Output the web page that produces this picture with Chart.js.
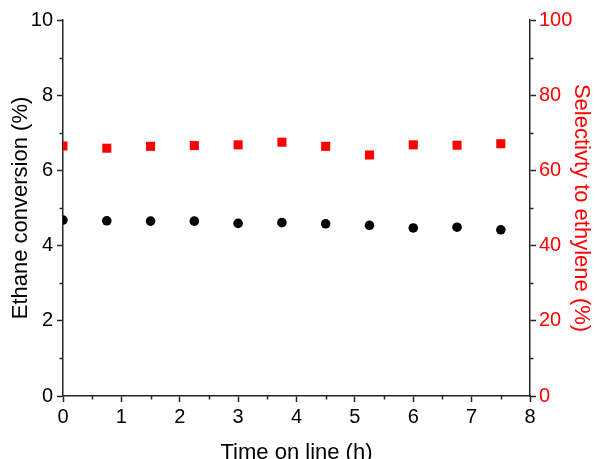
<!DOCTYPE html>
<html>
<head>
<meta charset="utf-8">
<title>Ethane conversion and ethylene selectivity vs. time on line</title>
<script src="https://cdn.jsdelivr.net/npm/chart.js@4/dist/chart.umd.min.js"></script>
<style>
  html, body { margin: 0; padding: 0; background: #ffffff; }
  #wrap { width: 595px; height: 459px; overflow: hidden; }
</style>
</head>
<body>
<div id="wrap"><canvas id="chart" width="595" height="459"></canvas></div>
<script>
// Time on line (h)
const timeOnLine = [0, 0.75, 1.5, 2.25, 3, 3.75, 4.5, 5.25, 6, 6.75, 7.5];
// Ethane conversion (%) — left axis
const ethaneConversion = [4.68, 4.66, 4.65, 4.65, 4.59, 4.61, 4.58, 4.54, 4.47, 4.49, 4.42];
// Selectivity to ethylene (%) — right axis
const ethyleneSelectivity = [66.5, 65.9, 66.4, 66.6, 66.8, 67.5, 66.4, 64.1, 66.8, 66.7, 67.1];

// Axis tick settings
const xTicks = { min: 0, max: 8, step: 1 };
const leftTicks = { min: 0, max: 10, step: 2 };
const rightTicks = { min: 0, max: 100, step: 20 };

const FONT = "'Liberation Sans', Arial, Helvetica, sans-serif";
const AXIS = '#262626';
const RED = '#ff0000';

const pairs = (xs, ys) => xs.map((t, i) => ({ x: t, y: ys[i] }));

// Short unlabelled ticks halfway between the labelled ones
const minorTicks = {
  id: 'minorTicks',
  afterDraw(chart) {
    const { ctx, scales } = chart;
    const len = 3.5;
    ctx.save();
    ctx.strokeStyle = AXIS;
    ctx.lineWidth = 1.5;
    ctx.beginPath();
    const xs = scales.x;
    for (let v = xTicks.min + xTicks.step / 2; v < xTicks.max; v += xTicks.step) {
      const px = Math.round(xs.getPixelForValue(v)) + 0.5;
      ctx.moveTo(px, xs.top); ctx.lineTo(px, xs.top + len);
    }
    const yl = scales.y;
    for (let v = leftTicks.min + leftTicks.step / 2; v < leftTicks.max; v += leftTicks.step) {
      const py = Math.round(yl.getPixelForValue(v)) + 0.5;
      ctx.moveTo(yl.right, py); ctx.lineTo(yl.right - len, py);
    }
    const yr = scales.y1;
    for (let v = rightTicks.min + rightTicks.step / 2; v < rightTicks.max; v += rightTicks.step) {
      const py = Math.round(yr.getPixelForValue(v)) + 0.5;
      ctx.moveTo(yr.left, py); ctx.lineTo(yr.left + len, py);
    }
    ctx.stroke();
    ctx.restore();
  }
};

const axisGrid = { drawOnChartArea: false, drawTicks: true, tickLength: 6, tickWidth: 1.5, color: AXIS };
const axisBorder = { display: true, color: AXIS, width: 1.5 };

new Chart(document.getElementById('chart'), {
  type: 'scatter',
  data: {
    datasets: [
      {
        label: 'Ethane conversion',
        data: pairs(timeOnLine, ethaneConversion),
        yAxisID: 'y',
        pointStyle: 'circle',
        pointRadius: 4.8,
        pointHoverRadius: 4.8,
        backgroundColor: '#000000',
        borderColor: '#000000',
        borderWidth: 0
      },
      {
        label: 'Selectivity to ethylene',
        data: pairs(timeOnLine, ethyleneSelectivity),
        yAxisID: 'y1',
        pointStyle: 'rect',
        pointRadius: 6.4,
        pointHoverRadius: 6.4,
        backgroundColor: RED,
        borderColor: RED,
        borderWidth: 0
      }
    ]
  },
  options: {
    responsive: false,
    animation: false,
    events: [],
    layout: { padding: { top: 20, left: 0, right: 0, bottom: 0 } },
    plugins: { legend: { display: false }, tooltip: { enabled: false } },
    scales: {
      x: {
        type: 'linear',
        position: 'bottom',
        min: xTicks.min, max: xTicks.max,
        grid: axisGrid,
        border: axisBorder,
        ticks: { stepSize: xTicks.step, color: '#000', padding: 3, font: { family: FONT, size: 20 } },
        title: {
          display: true, text: 'Time on line (h)', color: '#000',
          font: { family: FONT, size: 22 }, padding: { top: 0, bottom: -7 }
        },
        afterFit(scale) { scale.height = 63; }
      },
      y: {
        type: 'linear',
        position: 'left',
        min: leftTicks.min, max: leftTicks.max,
        grid: axisGrid,
        border: axisBorder,
        ticks: { stepSize: leftTicks.step, color: '#000', padding: 4, font: { family: FONT, size: 20 } },
        title: {
          display: true, text: 'Ethane conversion (%)', color: '#000',
          font: { family: FONT, size: 22 }, padding: { top: 8, bottom: 0 }
        },
        afterFit(scale) { scale.width = 63; }
      },
      y1: {
        type: 'linear',
        position: 'right',
        min: rightTicks.min, max: rightTicks.max,
        grid: axisGrid,
        border: axisBorder,
        ticks: { stepSize: rightTicks.step, color: RED, padding: 3, font: { family: FONT, size: 20 } },
        title: {
          display: true, text: 'Selectivty to ethylene (%)', color: RED,
          font: { family: FONT, size: 22 }, padding: { top: 1, bottom: 0 }
        },
        afterFit(scale) { scale.width = 65; }
      }
    }
  },
  plugins: [minorTicks]
});
</script>
</body>
</html>
